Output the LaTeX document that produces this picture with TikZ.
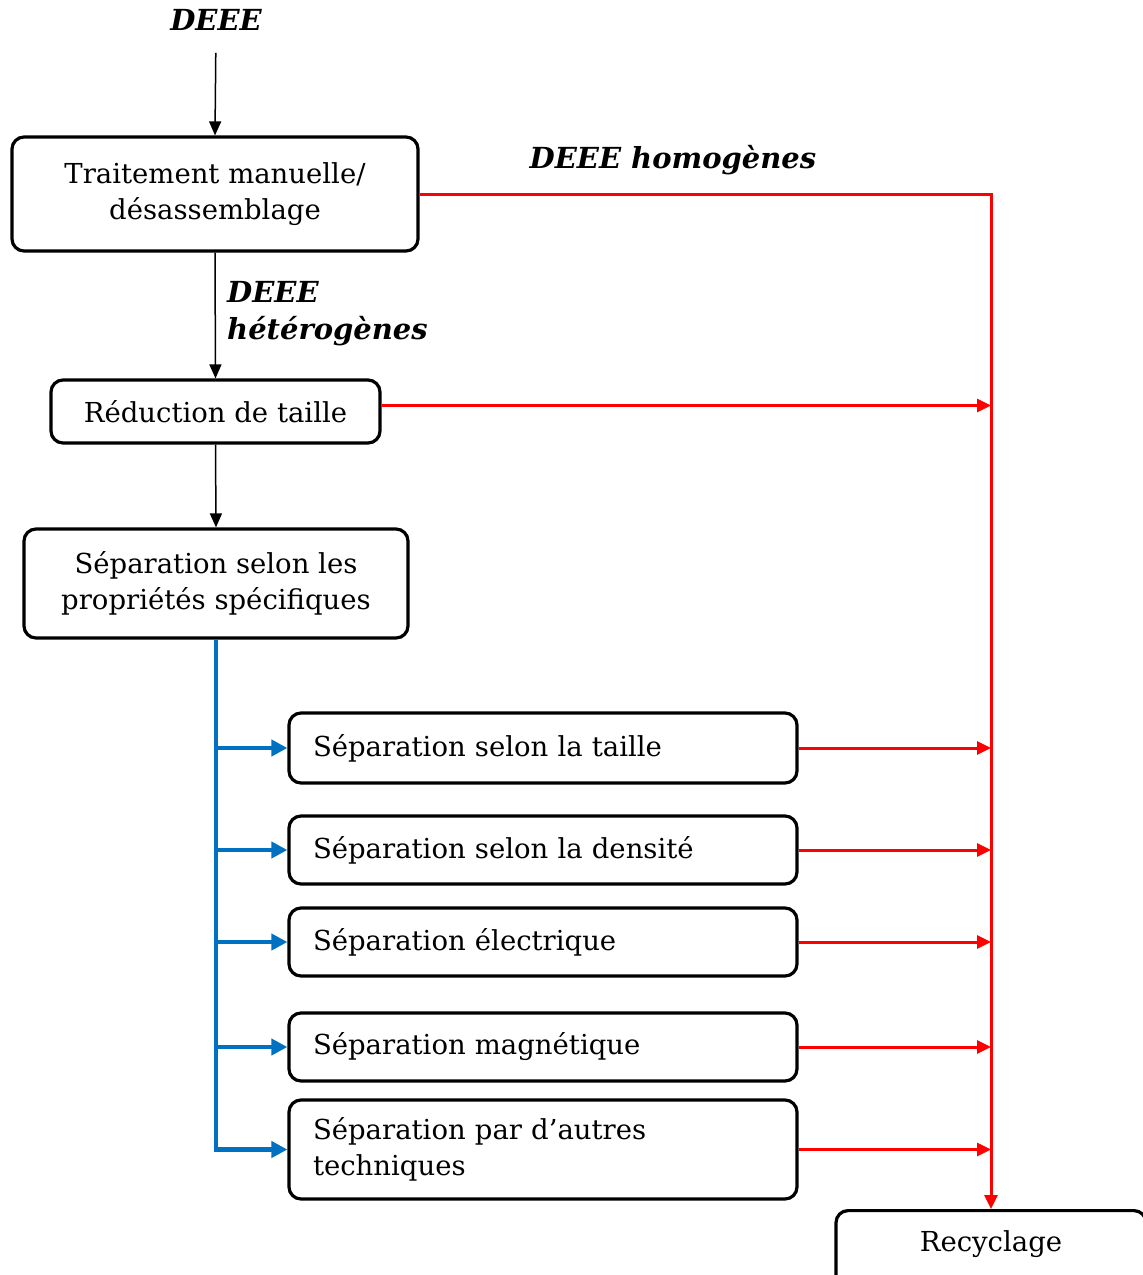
\documentclass[tikz,border=0pt]{standalone}
\usepackage{fontspec}
\setmainfont{DejaVu Serif}
\usetikzlibrary{arrows.meta}
\definecolor{offblue}{RGB}{0,112,192}
\begin{document}
\begin{tikzpicture}[x=1pt,y=-1pt,
  box/.style={draw, line width=3.2pt, rounded corners=12pt, inner sep=0pt, align=center,
    font=\fontsize{27.5}{36}\selectfont},
  lbox/.style={box, inner xsep=24pt, text width=460pt, align=left, minimum width=508pt},
  lab/.style={font=\fontsize{29}{37}\selectfont\bfseries\itshape, inner sep=0pt},
  blk/.style={line width=1.5pt, -{Triangle[length=14pt,width=12pt]}},
  redarr/.style={draw=red, line width=3pt, -{Triangle[length=14pt,width=13pt]}},
  bluearr/.style={draw=offblue, line width=4.5pt, -{Triangle[length=16pt,width=16pt]}}
]
\useasboundingbox (0,0) rectangle (1143,1275);
\clip (0,0) rectangle (1143,1275);

\node[lab] (deee) at (216,20) {DEEE};
\node[box, minimum width=406pt, minimum height=114pt] (b1) at (215,194)
  {Traitement manuelle/\\désassemblage};
\node[lab] (homog) at (673,160) {DEEE homogènes};
\node[lab, anchor=west, align=left] (heter) at (227,314) {DEEE\\hétérogènes};
\node[box, minimum width=329pt, minimum height=63pt] (b2) at (215.5,411.5) {Réduction de taille};
\node[box, minimum width=384pt, minimum height=109pt] (b3) at (216,583.5)
  {Séparation selon les\\propriétés spécifiques};
\node[lbox, minimum height=70pt] (b4) at (543,748) {Séparation selon la taille};
\node[lbox, minimum height=68pt] (b5) at (543,850) {Séparation selon la densité};
\node[lbox, minimum height=68pt] (b6) at (543,942) {Séparation électrique};
\node[lbox, minimum height=68pt] (b7) at (543,1047) {Séparation magnétique};
\node[lbox, minimum height=99pt] (b8) at (543,1149.5) {Séparation par d’autres\\techniques};
\node[box, minimum width=310pt, text height=41pt, text depth=39pt, inner ysep=0pt,
  anchor=north] (rec) at (991,1209) {Recyclage};

% black flow
\draw[blk, shorten <=22pt] (deee.south) -- (b1.north);
\draw[blk] (b1.south) -- (b2.north);
\draw[blk] (b2.south) -- (b3.north);

% blue distribution
\draw[bluearr] (b3.south) |- (b8.west);
\foreach \b in {b4,b5,b6,b7}
  \draw[bluearr] (\b.west -| b3.south) -- (\b.west);

% red recycling
\draw[redarr] (b1.east) -| (rec.north);
\draw[redarr] ([yshift=6pt]b2.east) -- ([yshift=6pt]b2.east -| rec.north);
\foreach \b in {b4,b5,b6,b7,b8}
  \draw[redarr] (\b.east) -- (\b.east -| rec.north);
\end{tikzpicture}
\end{document}
